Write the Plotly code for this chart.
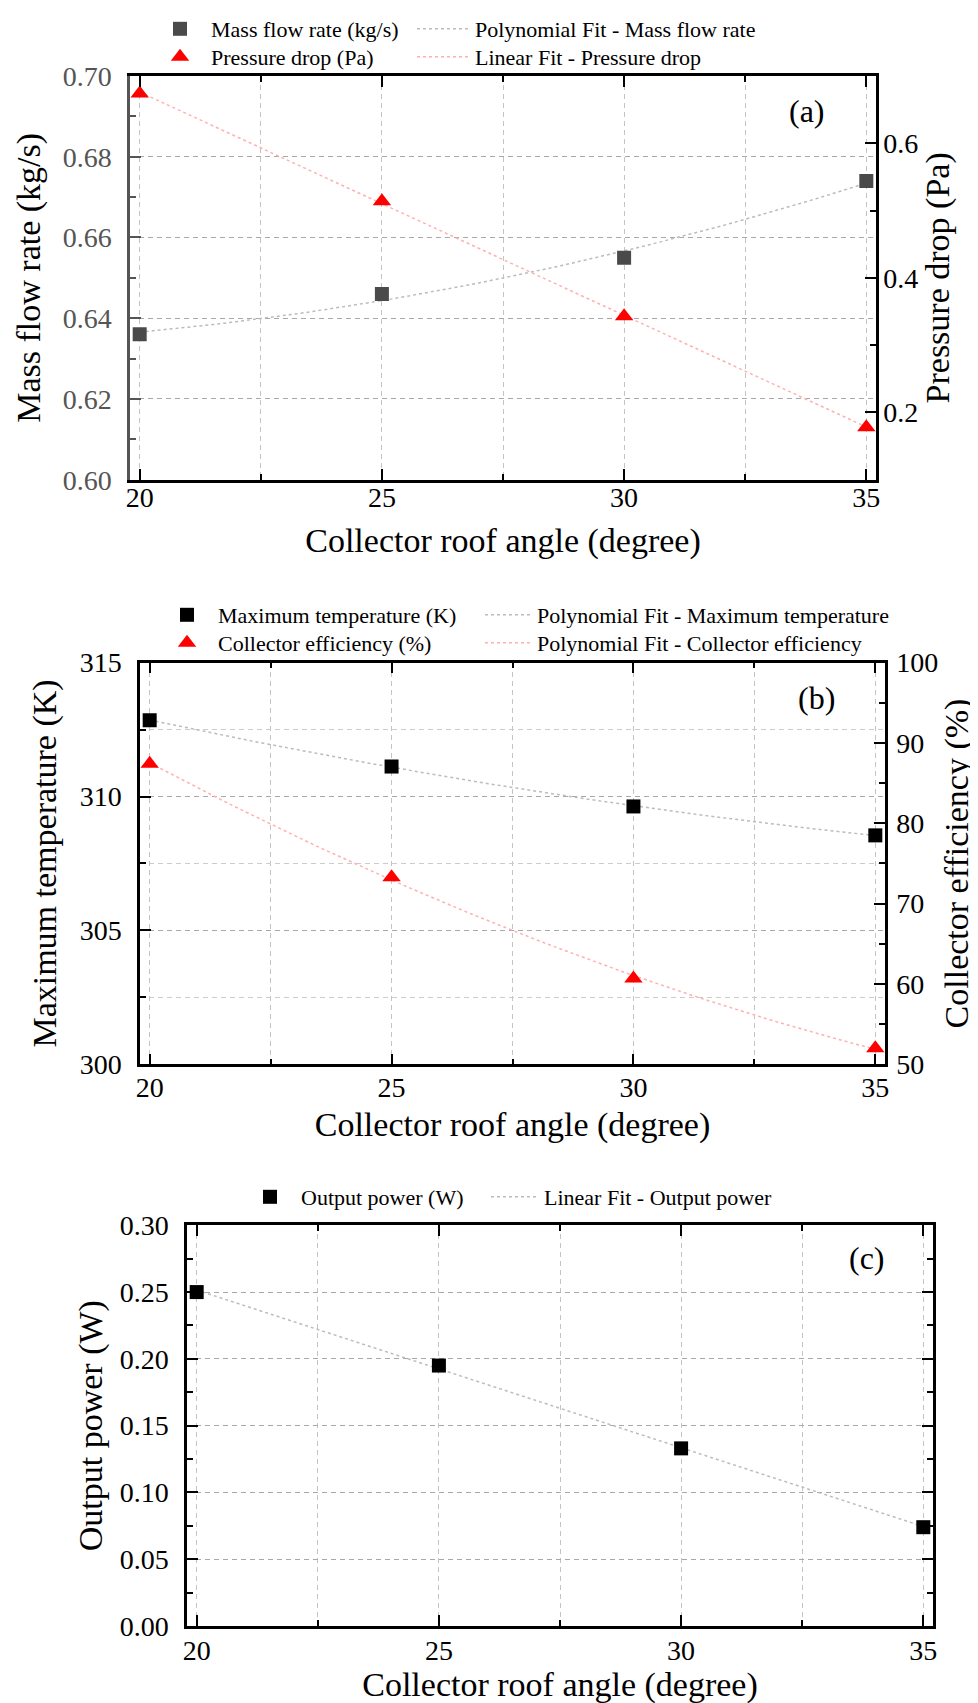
import numpy as np
import plotly.graph_objects as go

# ---------------- data ----------------
angle = [20, 25, 30, 35]
mass_flow = [0.636, 0.646, 0.655, 0.674]          # kg/s
pressure_drop = [0.674, 0.514, 0.343, 0.178]      # Pa
max_temp = [312.85, 311.12, 309.63, 308.55]       # K
efficiency = [87.4, 73.3, 60.7, 52.0]             # %
output_power = [0.250, 0.195, 0.133, 0.074]       # W

x_title = "Collector roof angle (degree)"

W, H = 978, 1703
FONT = "Liberation Serif"


def fit(x, y, deg):
    c = np.polyfit(x, y, deg)
    xs = np.linspace(min(x), max(x), 61)
    return xs, np.polyval(c, xs)


# panel boxes in pixels
PA = dict(l=122, r=868, t=67, b=471)
PB = dict(l=132, r=877, t=654, b=1056)
PC = dict(l=179, r=925, t=1217, b=1618)


def dx(p):
    return [p["l"] / W, p["r"] / W]


def dy(p):
    return [1 - p["b"] / H, 1 - p["t"] / H]


def px(x):
    return x / W


def py(y):
    return 1 - y / H


fig = go.Figure()

GRAY_FIT = "#bcbcbc"
RED_FIT = "#ffb0b0"
MS = 14
TS = 16


def add(x, y, name, legend, xa, ya, **kw):
    fig.add_trace(go.Scatter(x=x, y=y, name=name, legend=legend, xaxis=xa, yaxis=ya,
                             showlegend=True, **kw))


def fit_line(color):
    return dict(color=color, width=1.5, dash="dot")


# ---------- panel (a)
xs, ys = fit(angle, mass_flow, 2)
add(xs, ys, "Polynomial Fit - Mass flow rate", "legend2", "x", "y",
    mode="lines", line=fit_line(GRAY_FIT))
xs, ys = fit(angle, pressure_drop, 1)
add(xs, ys, "Linear Fit - Pressure drop", "legend4", "x", "y2",
    mode="lines", line=fit_line(RED_FIT))
add(angle, mass_flow, "Mass flow rate (kg/s)", "legend", "x", "y",
    mode="markers", marker=dict(symbol="square", size=MS, color="#4a4a4a"))
add(angle, pressure_drop, "Pressure drop (Pa)", "legend3", "x", "y2",
    mode="markers", marker=dict(symbol="triangle-up", size=TS, color="#ff0000"))

# ---------- panel (b)
xs, ys = fit(angle, max_temp, 2)
add(xs, ys, "Polynomial Fit - Maximum temperature", "legend6", "x2", "y3",
    mode="lines", line=fit_line(GRAY_FIT))
xs, ys = fit(angle, efficiency, 2)
add(xs, ys, "Polynomial Fit - Collector efficiency", "legend8", "x2", "y4",
    mode="lines", line=fit_line(RED_FIT))
add(angle, max_temp, "Maximum temperature (K)", "legend5", "x2", "y3",
    mode="markers", marker=dict(symbol="square", size=MS, color="#000000"))
add(angle, efficiency, "Collector efficiency (%)", "legend7", "x2", "y4",
    mode="markers", marker=dict(symbol="triangle-up", size=TS, color="#ff0000"))

# ---------- panel (c)
xs, ys = fit(angle, output_power, 1)
add(xs, ys, "Linear Fit - Output power", "legend10", "x3", "y5",
    mode="lines", line=fit_line(GRAY_FIT))
add(angle, output_power, "Output power (W)", "legend9", "x3", "y5",
    mode="markers", marker=dict(symbol="square", size=MS, color="#000000"))


def tf(size=28, color="black"):
    return dict(family=FONT, size=size, color=color)


GRID_DASH = "5px,4px"


def xaxis(p, anchor, lab_standoff, title_standoff):
    return dict(domain=dx(p), anchor=anchor, range=[19.8, 35.2],
                tickmode="linear", tick0=20, dtick=5,
                ticks="inside", ticklen=11, tickwidth=2, tickcolor="black",
                showline=True, linewidth=2.5, linecolor="black", mirror="ticks",
                showgrid=True, gridcolor="#c4c4c4", griddash=GRID_DASH, gridwidth=1,
                zeroline=False, tickfont=tf(), ticklabelstandoff=lab_standoff,
                title=dict(text=x_title, font=tf(34), standoff=title_standoff),
                minor=dict(tickmode="linear", tick0=20, dtick=2.5, ticks="inside",
                           ticklen=6, tickwidth=2, tickcolor="black",
                           showgrid=True, gridcolor="#c4c4c4", griddash=GRID_DASH,
                           gridwidth=1),
                automargin=False, fixedrange=True)


def yaxis(p, anchor, rng, tick0, dtick, minor_dtick, fmt, title, side="left",
          overlaying=None, color="black", grid=True, minor_grid=False, mirror=False,
          standoff=12, lab_standoff=10):
    d = dict(domain=dy(p), anchor=anchor, range=rng, side=side,
             tickmode="linear", tick0=tick0, dtick=dtick, tickformat=fmt,
             ticks="inside", ticklen=11, tickwidth=2, tickcolor=color,
             showline=True, linewidth=2.5, linecolor=color, mirror=mirror,
             showgrid=grid, gridcolor="#a8a8a8", griddash=GRID_DASH, gridwidth=1,
             zeroline=False, tickfont=tf(28, color), ticklabelstandoff=lab_standoff,
             title=dict(text=title, font=tf(34), standoff=standoff),
             minor=dict(tickmode="linear", tick0=tick0, dtick=minor_dtick, ticks="inside",
                        ticklen=6, tickwidth=2, tickcolor=color,
                        showgrid=minor_grid, gridcolor="#cccccc", griddash=GRID_DASH,
                        gridwidth=1),
             automargin=False, fixedrange=True)
    if overlaying:
        d["overlaying"] = overlaying
    return d


def legend(xp, ytop, itemwidth=30):
    return dict(x=px(xp), y=py(ytop), xanchor="left", yanchor="top",
                orientation="v", bgcolor="rgba(0,0,0,0)", borderwidth=0,
                font=dict(family=FONT, size=22, color="black"),
                itemwidth=itemwidth, tracegroupgap=0, visible=True)


fig.update_layout(
    width=W, height=H,
    margin=dict(l=0, r=0, t=0, b=0),
    paper_bgcolor="white", plot_bgcolor="white",
    font=dict(family=FONT, color="black"),
    showlegend=True,
    xaxis=xaxis(PA, "y", -9, 17),
    xaxis2=xaxis(PB, "y3", -4, 11),
    xaxis3=xaxis(PC, "y5", -2, 6),
    yaxis=yaxis(PA, "x", [0.60, 0.70], 0.60, 0.02, 0.01, ".2f", "Mass flow rate (kg/s)",
                color="#555555", standoff=12),
    yaxis2=yaxis(PA, "x", [0.1, 0.7], 0.2, 0.2, 0.1, ".1f", "Pressure drop (Pa)",
                 side="right", overlaying="y", grid=False, standoff=8, lab_standoff=-1),
    yaxis3=yaxis(PB, "x2", [300, 315], 300, 5, 2.5, "d", "Maximum temperature (K)",
                 minor_grid=True, standoff=13),
    yaxis4=yaxis(PB, "x2", [50, 100], 50, 10, 5, "d", "Collector efficiency (%)",
                 side="right", overlaying="y3", grid=False, standoff=7, lab_standoff=3),
    yaxis5=yaxis(PC, "x3", [0.0, 0.30], 0.0, 0.05, 0.025, ".2f", "Output power (W)",
                 mirror="ticks", standoff=7),
    # panel (a) legend: column 1 (markers) and column 2 (fit lines)
    legend=legend(141, -1, 52),
    legend3=legend(141, 28, 52),
    legend2=legend(404, -1, 53),
    legend4=legend(404, 28, 53),
    # panel (b)
    legend5=legend(148, 586, 52),
    legend7=legend(148, 614, 52),
    legend6=legend(472, 586, 47),
    legend8=legend(472, 614, 47),
    # panel (c)
    legend9=legend(231, 1168, 52),
    legend10=legend(478, 1168, 48),
    annotations=[
        dict(text="(a)", x=px(799), y=py(102), xref="paper", yref="paper",
             showarrow=False, font=tf(32), xanchor="center", yanchor="middle"),
        dict(text="(b)", x=px(808), y=py(689), xref="paper", yref="paper",
             showarrow=False, font=tf(32), xanchor="center", yanchor="middle"),
        dict(text="(c)", x=px(859), y=py(1250), xref="paper", yref="paper",
             showarrow=False, font=tf(32), xanchor="center", yanchor="middle"),
    ],
)

fig.write_html("out.html")
